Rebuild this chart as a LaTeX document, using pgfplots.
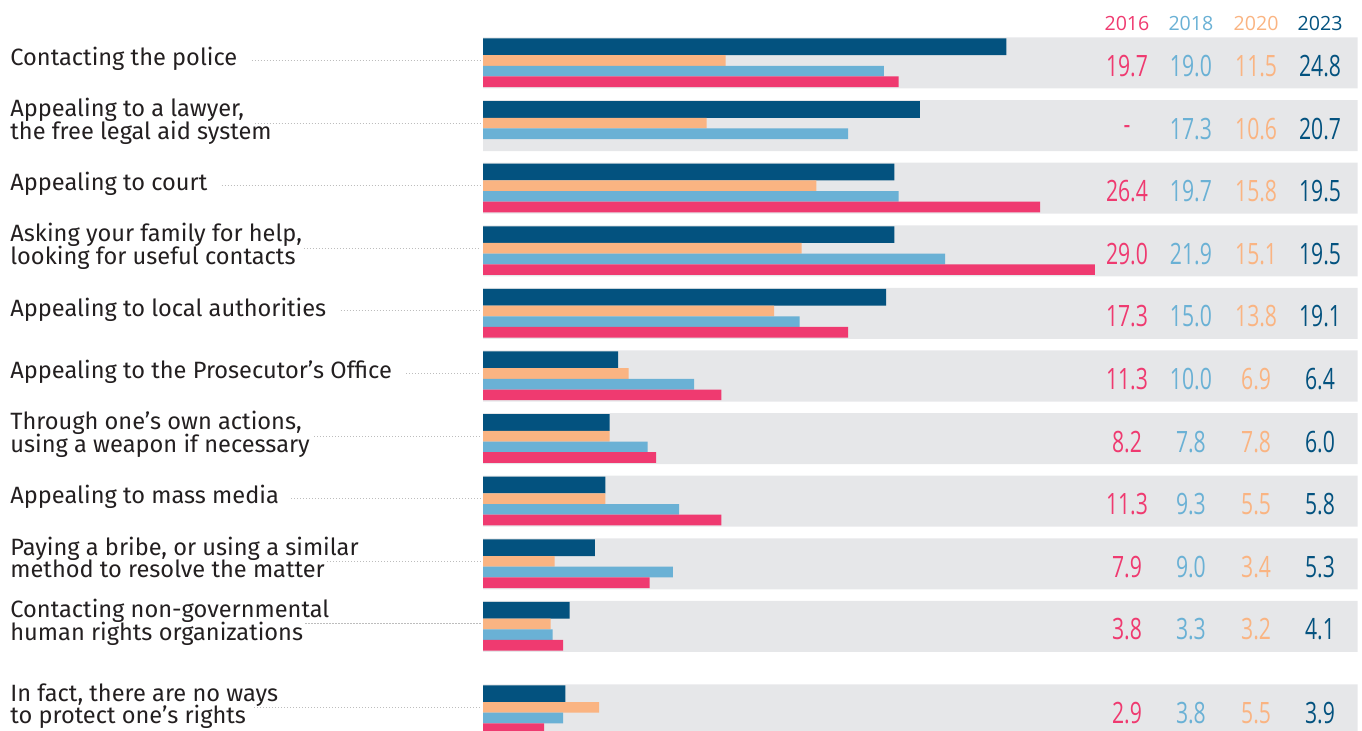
\documentclass[border=0pt]{standalone}
\usepackage{pgfplots}
\pgfplotsset{compat=1.18}
\usepackage{fontspec}
\setmainfont{Fira Sans}
\newfontfamily\numfont[FakeStretch=0.72]{Open Sans}
\newfontfamily\yrfont{Open Sans}
\usetikzlibrary{calc}
\definecolor{c23}{HTML}{03527F}
\definecolor{c20}{HTML}{FAB482}
\definecolor{c18}{HTML}{6AB1D5}
\definecolor{c16}{HTML}{EF3A70}
\definecolor{band}{HTML}{E6E7E9}
\definecolor{txt}{HTML}{231F20}
\definecolor{dots}{HTML}{BDBDBD}

\newcommand\labfont{\fontsize{11.8pt}{11.8pt}\selectfont}
\tikzset{
  lab/.style={anchor=base west, inner sep=0pt, font=\labfont, text=txt},
  leader/.style={draw=dots, line width=0.55pt, dash pattern=on 0.55pt off 0.95pt},
  val/.style={anchor=center, inner sep=0pt, font=\numfont\fontsize{14.7pt}{14.7pt}\selectfont},
  yr/.style={anchor=base, inner sep=0pt, font=\yrfont\fontsize{9.8pt}{9.8pt}\selectfont},
}
% single-line label: name, row centre, text
\newcommand\singlelab[3]{%
  \node[lab] (#1) at (axis cs:-22.417,#2+2.7) {#3};
  \coordinate (#1e) at (axis cs:-0.1,#2-2.5);
}
% two-line label: name, row centre, line 1, line 2
\newcommand\twolab[4]{%
  \node[lab] (#1a) at (axis cs:-22.417,#2-8.8) {#3};
  \node[lab] (#1b) at (axis cs:-22.417,#2+13.6) {#4};
  \coordinate (#1e) at (axis cs:-0.1,#2-2.5);
}
% values: row centre, 2016, 2018, 2020, 2023
\newcommand\vals[5]{%
  \node[val, text=c16] at (axis cs:30.52,#1+3) {#2};
  \node[val, text=c18] at (axis cs:33.55,#1+3) {#3};
  \node[val, text=c20] at (axis cs:36.64,#1+3) {#4};
  \node[val, text=c23] at (axis cs:39.67,#1+3) {#5};
}

\begin{document}
\begin{tikzpicture}
\begin{axis}[
  width=681pt, height=365.5pt, scale only axis,
  xmin=-22.891, xmax=41.659, ymin=0, ymax=731, y dir=reverse,
  hide axis, clip=false,
]
% background bands
\addplot[xbar, draw=none, fill=band, bar width=51, bar shift=0] coordinates {
 (41.455,63) (41.455,125.6) (41.455,188.2) (41.455,250.8) (41.455,313.4)
 (41.455,376) (41.455,438.6) (41.455,501.2) (41.455,563.8) (41.455,626.4) (41.455,709.8)};
% 2023
\addplot[xbar, draw=none, fill=c23, bar width=16.7, bar shift=-16.15] coordinates {
 (24.8,63) (20.7,125.6) (19.5,188.2) (19.5,250.8) (19.1,313.4)
 (6.4,376) (6.0,438.6) (5.8,501.2) (5.3,563.8) (4.1,626.4) (3.9,709.8)};
% 2020
\addplot[xbar, draw=none, fill=c20, bar width=10.7, bar shift=-2.45] coordinates {
 (11.5,63) (10.6,125.6) (15.8,188.2) (15.1,250.8) (13.8,313.4)
 (6.9,376) (6.0,438.6) (5.8,501.2) (3.4,563.8) (3.2,626.4) (5.5,709.8)};
% 2018
\addplot[xbar, draw=none, fill=c18, bar width=10.6, bar shift=8.2] coordinates {
 (19.0,63) (17.3,125.6) (19.7,188.2) (21.9,250.8) (15.0,313.4)
 (10.0,376) (7.8,438.6) (9.3,501.2) (9.0,563.8) (3.3,626.4) (3.8,709.8)};
% 2016
\addplot[xbar, draw=none, fill=c16, bar width=10.7, bar shift=18.85] coordinates {
 (19.7,63) (26.4,188.2) (29.0,250.8) (17.3,313.4)
 (11.3,376) (8.2,438.6) (11.3,501.2) (7.9,563.8) (3.8,626.4) (2.9,709.8)};

% header years
\node[yr, text=c16] at (axis cs:30.52,31) {2016};
\node[yr, text=c18] at (axis cs:33.55,31) {2018};
\node[yr, text=c20] at (axis cs:36.64,31) {2020};
\node[yr, text=c23] at (axis cs:39.67,31) {2023};

% labels
\singlelab{r0}{63}{Contacting the police}
\twolab{r1}{125.6}{Appealing to a lawyer,}{the free legal aid system}
\singlelab{r2}{188.2}{Appealing to court}
\twolab{r3}{250.8}{Asking your family for help,}{looking for useful contacts}
\singlelab{r4}{313.4}{Appealing to local authorities}
\singlelab{r5}{376}{Appealing to the Prosecutor’s Office}
\twolab{r6}{438.6}{Through one’s own actions,}{using a weapon if necessary}
\singlelab{r7}{501.2}{Appealing to mass media}
\twolab{r8}{563.8}{Paying a bribe, or using a similar}{method to resolve the matter}
\twolab{r9}{626.4}{Contacting non-governmental}{human rights organizations}
\twolab{r10}{709.8}{In fact, there are no ways}{to protect one’s rights}

% values
\vals{63}{19.7}{19.0}{11.5}{24.8}
\node[val, text=c16] at (axis cs:30.52,130) {-};
\node[val, text=c18] at (axis cs:33.55,128.6) {17.3};
\node[val, text=c20] at (axis cs:36.64,128.6) {10.6};
\node[val, text=c23] at (axis cs:39.67,128.6) {20.7};
\vals{188.2}{26.4}{19.7}{15.8}{19.5}
\vals{250.8}{29.0}{21.9}{15.1}{19.5}
\vals{313.4}{17.3}{15.0}{13.8}{19.1}
\vals{376}{11.3}{10.0}{6.9}{6.4}
\vals{438.6}{8.2}{7.8}{7.8}{6.0}
\vals{501.2}{11.3}{9.3}{5.5}{5.8}
\vals{563.8}{7.9}{9.0}{3.4}{5.3}
\vals{626.4}{3.8}{3.3}{3.2}{4.1}
\vals{709.8}{2.9}{3.8}{5.5}{3.9}

\coordinate (SW) at (axis cs:-22.891,731);
\coordinate (NE) at (axis cs:41.659,0);
\end{axis}
% dotted leaders from label end to bar start
\foreach \n/\e/\gap in {r0/r0e/7pt, r1a/r1e/5pt, r2/r2e/7pt, r3b/r3e/4pt, r4/r4e/7pt, r5/r5e/7pt, r6b/r6e/2pt, r7/r7e/6pt, r8b/r8e/1pt, r9b/r9e/1pt, r10b/r10e/4pt} {
  \path ($(\n.base east)+(\gap,0)$) coordinate (tmps);
  \draw[leader] (tmps |- \e) -- (\e);
}
\pgfresetboundingbox
\path[use as bounding box] (SW) rectangle (NE);
\end{tikzpicture}
\end{document}
